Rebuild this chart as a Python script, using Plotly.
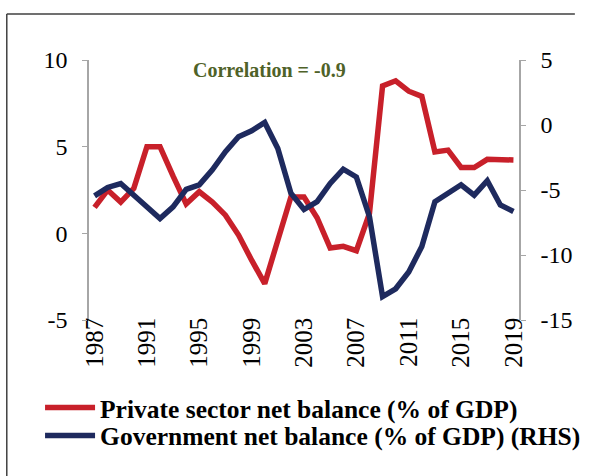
import plotly.graph_objects as go

# Annual sector balances
years = list(range(1987, 2020))
private_balance = [1.5, 2.5, 1.8, 2.6, 5.0, 5.0, 3.3, 1.7, 2.4, 1.8, 1.05, -0.1,
                   -1.55, -2.9, -0.4, 2.1, 2.1, 0.9, -0.85, -0.75, -1.0, 1.15,
                   8.5, 8.8, 8.2, 7.9, 4.7, 4.8, 3.8, 3.8, 4.27, 4.27, 4.23]
gov_balance = [-5.45, -4.8, -4.5, -5.4, -6.2, -7.2, -6.3, -4.95, -4.6, -3.45,
               -2.05, -0.9, -0.45, 0.2, -1.8, -5.25, -6.5, -5.9, -4.5, -3.4,
               -4.0, -7.05, -13.2, -12.6, -11.3, -9.35, -5.9, -5.3, -4.6, -5.4,
               -4.28, -6.15, -6.65]

label_years = years[::4]
label_text = [str(y) for y in label_years]
boundary_ticks = [y - 0.5 for y in label_years]

left_ticks = [-5, 0, 5, 10]
right_ticks = [-15, -10, -5, 0, 5]
left_range = [-5, 10]
right_range = [-15, 5]

RED = "#C8202A"
NAVY = "#1E2A5E"
AXIS_GREY = "#A6A6A6"
SERIF = "Liberation Serif"

fig = go.Figure()
fig.add_trace(go.Scatter(
    x=years, y=private_balance, mode="lines",
    name="Private sector net balance (% of GDP)",
    line=dict(color=RED, width=5.5), xaxis="x", yaxis="y", legend="legend",
))
fig.add_trace(go.Scatter(
    x=years, y=gov_balance, mode="lines",
    name="Government net balance (% of GDP) (RHS)",
    line=dict(color=NAVY, width=5.5), xaxis="x", yaxis="y2", legend="legend2",
))

# category axis crosses the left scale at zero
zero_pos = (0 - left_range[0]) / (left_range[1] - left_range[0])
x_range = [years[0] - 0.5, years[-1] + 0.5]

legend_font = dict(family=SERIF, size=25.5, color="black", weight="bold")
legend_common = dict(xanchor="left", yanchor="middle", font=legend_font,
                     bgcolor="rgba(0,0,0,0)", itemwidth=50)

fig.update_layout(
    width=607, height=476,
    margin=dict(l=88, r=87, t=60, b=156),
    paper_bgcolor="white", plot_bgcolor="white",
    font=dict(family=SERIF, size=24, color="black"),
    showlegend=True,
    legend=dict(x=-0.111, y=-0.3385, **legend_common),
    legend2=dict(x=-0.111, y=-0.446, **legend_common),
    xaxis=dict(
        range=x_range, tickmode="array", tickvals=label_years, ticktext=label_text,
        tickangle=-90, ticks="", showline=False, showgrid=False, zeroline=False,
        anchor="free", position=0.032, tickfont=dict(size=25),
    ),
    xaxis2=dict(
        range=x_range, overlaying="x", tickmode="array", tickvals=boundary_ticks,
        showticklabels=False, ticks="outside", ticklen=6, tickcolor=AXIS_GREY,
        showline=True, linecolor=AXIS_GREY, linewidth=1.5, showgrid=False,
        zeroline=False, anchor="free", position=zero_pos,
    ),
    yaxis=dict(
        range=left_range, tickmode="array", tickvals=left_ticks,
        ticktext=[str(v) for v in left_ticks], ticklabelstandoff=10,
        ticks="outside", ticklen=5, tickcolor=AXIS_GREY, showline=True,
        linecolor=AXIS_GREY, linewidth=1.5, showgrid=False, zeroline=False,
        anchor="free", position=0,
    ),
    yaxis2=dict(
        range=right_range, tickmode="array", tickvals=right_ticks,
        ticktext=[str(v) for v in right_ticks], ticklabelstandoff=10,
        overlaying="y", side="right", ticks="outside", ticklen=5,
        tickcolor=AXIS_GREY, showline=True, linecolor=AXIS_GREY, linewidth=1.5,
        showgrid=False, zeroline=False, anchor="free", position=1,
    ),
    annotations=[dict(
        text="Correlation = -0.9", xref="paper", yref="paper",
        x=0.419, y=0.9615, xanchor="center", yanchor="middle", showarrow=False,
        font=dict(family=SERIF, size=20, color="#4F6228", weight="bold"),
    )],
    shapes=[
        dict(type="line", xref="paper", yref="paper", x0=-0.188, x1=1.127,
             y0=1.177, y1=1.177, line=dict(color="#404040", width=1.5)),
        dict(type="line", xref="paper", yref="paper", x0=-0.188, x1=-0.188,
             y0=1.177, y1=-0.62, line=dict(color="#404040", width=1.5)),
    ],
)

fig.write_html("out.html")
